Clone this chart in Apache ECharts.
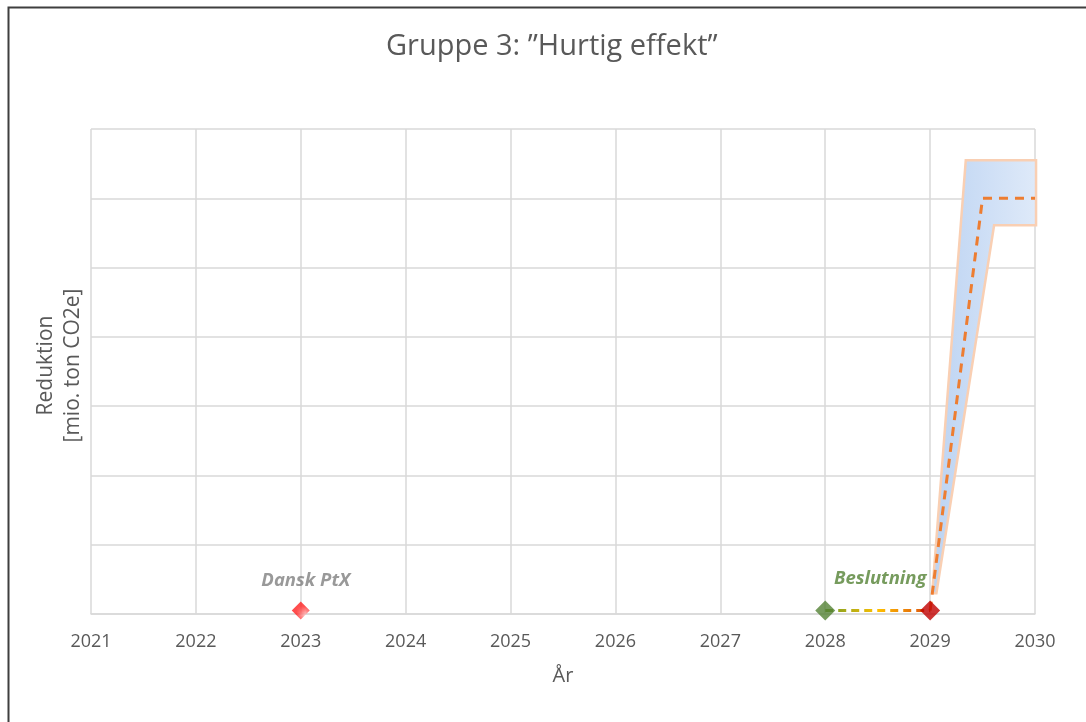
<!DOCTYPE html>
<html>
<head>
<meta charset="utf-8">
<script src="https://cdn.jsdelivr.net/npm/echarts@6/dist/echarts.min.js"></script>
<style>
  html, body { margin: 0; padding: 0; background: #fff; }
  #chart { width: 1086px; height: 722px; }
</style>
</head>
<body>
<div id="chart"></div>
<script>
// Axis setup
const yearTicks = [2021, 2022, 2023, 2024, 2025, 2026, 2027, 2028, 2029, 2030];
const yMax = 7;

// Milestones on the timeline
const ptxPoint = [2023, 0.05];
const decisionPoint = [2028, 0.05];
const startPoint = [2029, 0.05];

// Expected reduction (dashed central path)
const effectX = [2029, 2029.5, 2030];
const effectY = [0.05, 6.0, 6.0];

// Uncertainty band outline (clockwise)
const bandX = [2029.02, 2029.34, 2030.01, 2030.01, 2029.61, 2029.06];
const bandY = [0.3, 6.55, 6.55, 5.61, 5.61, 0.3];

const FONT = '"Open Sans", "Noto Sans", sans-serif';

// Red dotted fill for the PtX marker
function dottedPattern() {
  const c = document.createElement('canvas');
  c.width = 4; c.height = 4;
  const g = c.getContext('2d');
  g.fillStyle = '#ff2020';
  g.fillRect(0, 0, 4, 4);
  g.fillStyle = '#ffbdbd';
  g.fillRect(0, 0, 1, 1);
  g.fillRect(2, 2, 1, 1);
  return { image: c, repeat: 'repeat' };
}

const chart = echarts.init(document.getElementById('chart'), null, { renderer: 'canvas' });

const option = {
  animation: false,
  backgroundColor: '#ffffff',
  title: {
    text: 'Gruppe 3: \u201DHurtig effekt\u201D',
    left: 381,
    top: 27,
    textStyle: { fontFamily: FONT, fontSize: 29, fontWeight: 'normal', color: '#595959' }
  },
  graphic: [{
    type: 'rect',
    shape: { x: 8.5, y: 7.5, width: 1200, height: 800 },
    style: { fill: 'none', stroke: '#3f3f3f', lineWidth: 2 },
    z: 100
  }],
  grid: { left: 91, right: 51, top: 129, bottom: 108 },
  xAxis: {
    type: 'value',
    min: yearTicks[0],
    max: yearTicks[yearTicks.length - 1],
    interval: 1,
    name: 'År',
    nameLocation: 'middle',
    nameGap: 52,
    nameTextStyle: { fontFamily: FONT, fontSize: 20, color: '#595959' },
    axisLine: { show: true, lineStyle: { color: '#d9d9d9', width: 1.5 } },
    axisTick: { show: false },
    axisLabel: {
      margin: 19,
      fontFamily: FONT, fontSize: 18, color: '#595959',
      formatter: v => String(v)
    },
    splitLine: { show: true, lineStyle: { color: '#d9d9d9', width: 1.5 } }
  },
  yAxis: {
    type: 'value',
    min: 0,
    max: yMax,
    interval: 1,
    name: 'Reduktion\n[mio. ton CO2e]',
    nameLocation: 'middle',
    nameGap: 4,
    nameRotate: 90,
    nameTextStyle: { fontFamily: FONT, fontSize: 21, color: '#595959', lineHeight: 27, padding: [0, 0, 0, 12] },
    axisLine: { show: false },
    axisTick: { show: false },
    axisLabel: { show: false },
    splitLine: { show: true, lineStyle: { color: '#d9d9d9', width: 1.5 } }
  },
  series: [
    {
      // uncertainty band
      type: 'custom',
      clip: false,
      z: 2,
      data: [0],
      renderItem: function (params, api) {
        const pts = bandX.map((x, i) => api.coord([x, bandY[i]]));
        return {
          type: 'polygon',
          shape: { points: pts },
          style: {
            fill: new echarts.graphic.LinearGradient(0, 0, 1, 0, [
              { offset: 0, color: '#bcd3f2' },
              { offset: 1, color: '#dfeaf9' }
            ]),
            stroke: '#f9cfb3',
            lineWidth: 2.5,
            lineJoin: 'miter'
          }
        };
      }
    },
    {
      // expected reduction
      type: 'line',
      z: 3,
      clip: false,
      symbol: 'none',
      data: effectX.map((x, i) => [x, effectY[i]]),
      lineStyle: { color: '#ed7d31', width: 3, type: [9, 7] }
    },
    {
      // decision to start
      type: 'line',
      z: 3,
      symbol: 'none',
      data: [decisionPoint, startPoint],
      lineStyle: {
        width: 3,
        type: [8, 5],
        color: new echarts.graphic.LinearGradient(0, 0, 1, 0, [
          { offset: 0, color: '#6a9a2a' },
          { offset: 0.5, color: '#ffc000' },
          { offset: 1, color: '#d9480f' }
        ])
      }
    },
    {
      type: 'scatter',
      z: 5,
      clip: false,
      symbol: 'diamond',
      symbolSize: 18,
      data: [ptxPoint],
      itemStyle: { color: dottedPattern() },
      label: {
        show: true,
        position: 'top',
        distance: 11,
        offset: [5, 0],
        formatter: 'Dansk PtX',
        fontFamily: FONT, fontSize: 18.5, fontWeight: 'bold', fontStyle: 'italic',
        color: '#7f7f7f'
      }
    },
    {
      type: 'scatter',
      z: 5,
      clip: false,
      symbol: 'diamond',
      symbolSize: 20,
      data: [decisionPoint],
      itemStyle: { color: '#548235' },
      label: {
        show: true,
        position: 'top',
        distance: 12,
        offset: [55, 0],
        formatter: 'Beslutning',
        fontFamily: FONT, fontSize: 18.5, fontWeight: 'bold', fontStyle: 'italic',
        color: '#548235'
      }
    },
    {
      type: 'scatter',
      z: 5,
      clip: false,
      symbol: 'diamond',
      symbolSize: 20,
      data: [startPoint],
      itemStyle: { color: '#c00000' }
    }
  ]
};

chart.setOption(option);
</script>
</body>
</html>
